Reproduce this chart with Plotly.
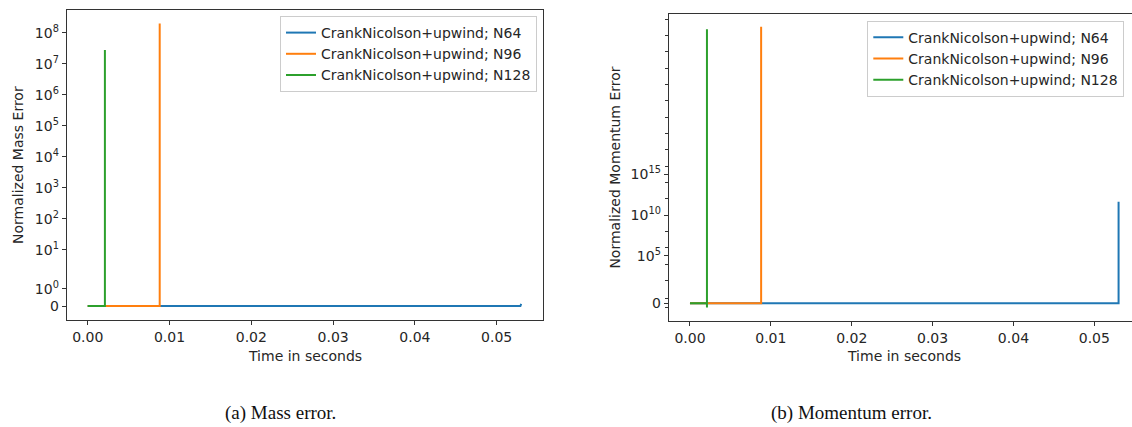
import math
import plotly.graph_objects as go

# ---------------- data ----------------
series_names = ["CrankNicolson+upwind; N64", "CrankNicolson+upwind; N96", "CrankNicolson+upwind; N128"]
series_colors = ["#1f77b4", "#ff7f0e", "#2ca02c"]

# Mass error
mass_t_n64 = [0.0, 0.0529, 0.0530]
mass_v_n64 = [0.0, 0.0, 0.12]
mass_t_n96 = [0.0, 0.0088, 0.0088]
mass_v_n96 = [0.0, 0.0, 2.0e8]
mass_t_n128 = [0.0, 0.0021, 0.0021]
mass_v_n128 = [0.0, 0.0, 2.8e7]

# Momentum error
mom_t_n64 = [0.0, 0.0530, 0.0530]
mom_v_n64 = [0.0, 0.0, 4.4e11]
mom_t_n96 = [0.0, 0.0088, 0.0088]
mom_v_n96 = [0.0, 0.0, 1.2e33]
mom_t_n128 = [0.0, 0.0021, 0.0021, 0.0021]
mom_v_n128 = [0.0, 0.0, -0.95, 5.9e32]

x_tick_vals = [0.00, 0.01, 0.02, 0.03, 0.04, 0.05]
x_tick_text = ["0.00", "0.01", "0.02", "0.03", "0.04", "0.05"]

mass_y_ticks = [0, 1, 10, 1e2, 1e3, 1e4, 1e5, 1e6, 1e7, 1e8]
mass_y_text = ["0", "10<sup>0</sup>", "10<sup>1</sup>", "10<sup>2</sup>", "10<sup>3</sup>",
               "10<sup>4</sup>", "10<sup>5</sup>", "10<sup>6</sup>", "10<sup>7</sup>", "10<sup>8</sup>"]
mom_y_ticks = [0, 1e5, 1e10, 1e15]
mom_y_text = ["0", "10<sup>5</sup>", "10<sup>10</sup>", "10<sup>15</sup>"]
mom_minor_exps = [2, 4, 6, 8, 12, 14, 16, 18, 20, 22, 24, 26, 28, 30, 32, 34]


# ---------------- symmetric-log scale (matplotlib 'symlog', linthresh=2) ----------------
def symlog(v, linthresh=2.0, linscale=1.0, base=10.0):
    adj = linscale / (1.0 - 1.0 / base)
    a = abs(v)
    if a <= linthresh:
        return v * adj
    s = 1.0 if v > 0 else -1.0
    return s * linthresh * (adj + math.log(a / linthresh, base))


def tr(vals):
    return [symlog(v) for v in vals]


FONT = "DejaVu Sans"
FS = 14
TXT = "#262626"
fig = go.Figure()

mass_sets = [(mass_t_n64, mass_v_n64), (mass_t_n96, mass_v_n96), (mass_t_n128, mass_v_n128)]
mom_sets = [(mom_t_n64, mom_v_n64), (mom_t_n96, mom_v_n96), (mom_t_n128, mom_v_n128)]

for i, (t, v) in enumerate(mass_sets):
    fig.add_trace(go.Scatter(x=t, y=tr(v), mode="lines", name=series_names[i],
                             line=dict(color=series_colors[i], width=2),
                             xaxis="x", yaxis="y", legend="legend"))
for i, (t, v) in enumerate(mom_sets):
    fig.add_trace(go.Scatter(x=t, y=tr(v), mode="lines", name=series_names[i],
                             line=dict(color=series_colors[i], width=2),
                             xaxis="x2", yaxis="y2", legend="legend2"))

W, H = 1132, 427
def px_x(p):
    return p / W
def px_y(p):
    return 1 - p / H

axis_common = dict(showgrid=False, zeroline=False, showline=True, linecolor="#333333", linewidth=1,
                   ticks="outside", ticklen=4, tickcolor="#333333", tickwidth=1,
                   tickfont=dict(family=FONT, size=FS, color=TXT))

fig.update_layout(
    width=W, height=H, margin=dict(l=0, r=0, t=0, b=0),
    paper_bgcolor="white", plot_bgcolor="white",
    font=dict(family=FONT, size=FS, color=TXT),
    xaxis=dict(domain=[px_x(66.7), px_x(543.3)], range=[-0.00257, 0.0557],
               tickmode="array", tickvals=x_tick_vals, ticktext=x_tick_text,
               anchor="y", mirror=True, **axis_common),
    yaxis=dict(domain=[px_y(320), px_y(10)], range=[-0.9, 19.1],
               tickmode="array", tickvals=tr(mass_y_ticks), ticktext=mass_y_text,
               anchor="x", mirror=True, **axis_common),
    xaxis2=dict(domain=[px_x(668.7), 1.0], range=[-0.00263, 0.05466],
                tickmode="array", tickvals=x_tick_vals, ticktext=x_tick_text,
                anchor="y2", mirror=True, **axis_common),
    yaxis2=dict(domain=[px_y(321), px_y(14.3)], range=[-4.34, 70.83],
                tickmode="array", tickvals=tr(mom_y_ticks), ticktext=mom_y_text,
                minor=dict(tickmode="array",
                           tickvals=tr([-1, 1] + [10.0 ** e for e in mom_minor_exps]),
                           ticks="outside", ticklen=2.5, tickcolor="#333333", tickwidth=1),
                anchor="x2", mirror=False, **axis_common),
    legend=dict(x=px_x(537), y=px_y(16), xanchor="right", yanchor="top",
                bgcolor="rgba(255,255,255,0.85)", bordercolor="#cccccc", borderwidth=1,
                font=dict(family=FONT, size=FS, color=TXT), tracegroupgap=0),
    legend2=dict(x=px_x(867.3), y=px_y(20.7), xanchor="left", yanchor="top",
                 bgcolor="rgba(255,255,255,0.85)", bordercolor="#cccccc", borderwidth=1,
                 font=dict(family=FONT, size=FS, color=TXT), tracegroupgap=0),
    showlegend=True,
)

annotations = [
    dict(text="Time in seconds", x=px_x(305), y=px_y(356), xref="paper", yref="paper",
         showarrow=False, font=dict(family=FONT, size=FS, color=TXT), xanchor="center", yanchor="middle"),
    dict(text="Time in seconds", x=px_x(904), y=px_y(356), xref="paper", yref="paper",
         showarrow=False, font=dict(family=FONT, size=FS, color=TXT), xanchor="center", yanchor="middle"),
    dict(text="Normalized Mass Error", x=px_x(18), y=px_y(165), xref="paper", yref="paper",
         showarrow=False, textangle=-90, font=dict(family=FONT, size=FS, color=TXT),
         xanchor="center", yanchor="middle"),
    dict(text="Normalized Momentum Error", x=px_x(615), y=px_y(167.6), xref="paper", yref="paper",
         showarrow=False, textangle=-90, font=dict(family=FONT, size=FS, color=TXT),
         xanchor="center", yanchor="middle"),
    dict(text="(a) Mass error.", x=px_x(280), y=px_y(413), xref="paper", yref="paper",
         showarrow=False, font=dict(family="Liberation Serif", size=19, color="#111111"),
         xanchor="center", yanchor="middle"),
    dict(text="(b) Momentum error.", x=px_x(851), y=px_y(413), xref="paper", yref="paper",
         showarrow=False, font=dict(family="Liberation Serif", size=19, color="#111111"),
         xanchor="center", yanchor="middle"),
]
fig.update_layout(annotations=annotations)

fig.write_html("out.html")
